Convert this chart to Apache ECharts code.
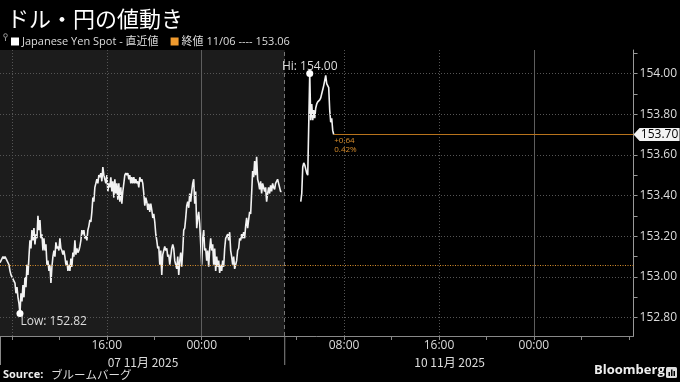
<!DOCTYPE html>
<html><head><meta charset="utf-8">
<script src="https://cdn.jsdelivr.net/npm/echarts@6/dist/echarts.min.js"></script>
<style>html,body{margin:0;padding:0;background:#000;}#c{width:680px;height:382px;}</style>
</head><body><div id="c"></div>
<script>
// ---------- data ----------
const TITLE = 'ドル・円の値動き';
const SERIES_NAME = 'Japanese Yen Spot - 直近値';
const PREV_NAME = '終値 11/06 ---- 153.06';
const SOURCE_LABEL = 'Source:';
const SOURCE_TEXT = 'ブルームバーグ';
const BRAND = 'Bloomberg';
const prevClose = 153.06;
const lastPrice = 153.70;
const changeLines = ['+0.64', '0.42%'];
const hiLabel = 'Hi: 154.00';
const lowLabel = 'Low: 152.82';

// y axis ticks / labels
const yLabelValues = [152.8, 153.0, 153.2, 153.4, 153.6, 153.8, 154.0];
const yTickValues = [152.8, 152.9, 153.0, 153.1, 153.2, 153.3, 153.4, 153.5, 153.6, 153.7, 153.8, 153.9, 154.0, 154.1];

// x axis: hours on a compressed timeline (07 Nov 00:00 = 0; weekend removed)
const xMinHour = 7;
const xMaxHour = 60.4;
const sessionBreakHour = 31;
const xTickHours = [8, 12, 16, 20, 24, 28, 32, 36, 40, 44, 48, 52, 56, 60];
const xLabelHours = [16, 24, 36, 44, 52];
const xLabelTexts = ['16:00', '00:00', '08:00', '16:00', '00:00'];
const dateLabelHours = [19.05, 44.9];
const dateLabelTexts = ['07 11月 2025', '10 11月 2025'];
const dottedGridHours = [8, 16, 36, 44];
const midnightHours = [24, 52];

// sampling
const fridayStartHour = 7;
const mondayStartHour = 32.35;
const sampleMinutes = 5.05;

const fridayPrices = [
153.07,153.08,153.09,153.10,153.09,153.10,153.09,153.08,153.08,153.06,
153.03,153.01,153.00,153.00,152.98,152.97,152.92,152.95,152.90,152.87,
152.82,152.92,152.88,152.96,152.90,153.00,152.95,153.06,153.01,153.10,
153.18,153.14,153.23,153.18,153.24,153.16,153.21,153.19,153.30,153.23,
153.28,153.19,153.21,153.13,153.19,153.13,153.16,153.06,153.08,153.03,
153.06,152.97,153.05,153.10,153.13,153.10,153.17,153.14,153.15,153.13,
153.19,153.14,153.13,153.11,153.13,153.10,153.06,153.08,153.03,153.06,
153.03,153.09,153.05,153.12,153.10,153.18,153.11,153.14,153.12,153.13,
153.15,153.18,153.23,153.21,153.23,153.19,153.20,153.18,153.23,153.25,
153.28,153.27,153.32,153.39,153.37,153.44,153.46,153.48,153.46,153.50,
153.49,153.51,153.47,153.54,153.50,153.48,153.46,153.50,153.42,153.46,
153.44,153.49,153.42,153.47,153.39,153.48,153.41,153.46,153.38,153.46,
153.37,153.44,153.36,153.42,153.46,153.50,153.51,153.50,153.51,153.48,
153.50,153.46,153.49,153.46,153.49,153.46,153.48,153.46,153.47,153.44,
153.49,153.47,153.48,153.46,153.41,153.35,153.39,153.37,153.33,153.36,
153.32,153.36,153.33,153.29,153.31,153.27,153.21,153.18,153.14,153.15,
153.06,153.13,153.01,153.11,153.13,153.15,153.13,153.14,153.10,153.11,
153.06,153.10,153.14,153.16,153.14,153.08,153.06,153.04,153.10,153.01,
153.08,153.12,153.05,153.13,153.23,153.24,153.29,153.35,153.37,153.34,
153.41,153.37,153.42,153.46,153.48,153.36,153.42,153.24,153.29,153.32,
153.26,153.16,153.06,153.19,153.23,153.13,153.14,153.08,153.13,153.05,
153.14,153.19,153.13,153.16,153.06,153.14,153.03,153.10,153.05,153.08,
153.02,153.06,153.03,153.08,153.05,153.14,153.19,153.20,153.21,153.18,
153.22,153.13,153.10,153.06,153.10,153.04,153.06,153.08,153.13,153.14,
153.19,153.18,153.21,153.19,153.22,153.19,153.25,153.29,153.24,153.28,
153.32,153.31,153.41,153.52,153.49,153.57,153.50,153.59,153.48,153.46,
153.43,153.47,153.41,153.46,153.46,153.42,153.44,153.37,153.41,153.44,
153.41,153.45,153.42,153.46,153.44,153.43,153.46,153.46,153.48,153.46,
153.46,153.42,153.42
];
const mondayPrices = [
153.37,153.41,153.54,153.56,153.55,153.53,153.51,153.50,153.50,154.00,
153.77,153.85,153.77,153.82,153.78,153.83,153.85,153.86,153.86,153.87,
153.88,153.90,153.92,153.94,153.94,153.99,153.95,153.94,153.93,153.82,
153.76,153.78,153.72,153.70
];

// ---------- build ----------
const step = sampleMinutes / 60;
const lineData = [];
fridayPrices.forEach((v, i) => lineData.push([fridayStartHour + i * step, v]));
lineData.push([(fridayStartHour + fridayPrices.length * step + mondayStartHour) / 2, null]);
mondayPrices.forEach((v, i) => lineData.push([mondayStartHour + i * step, v]));
const lastHour = mondayStartHour + (mondayPrices.length - 1) * step;

const ORANGE = '#d98e2c';
const ORANGE_DARK = '#b8731c';
const TXT = '#dcdcdc';
const FONT = '"Open Sans", "Noto Sans CJK JP", sans-serif';
const CJK = '"Noto Sans CJK JP", "Open Sans", sans-serif';

const chart = echarts.init(document.getElementById('c'), null, {renderer: 'canvas'});

const gridMarkLines = [];
yLabelValues.forEach(v => gridMarkLines.push({yAxis: v, lineStyle: {color: '#555', type: [1, 2], width: 1}}));
dottedGridHours.forEach(h => gridMarkLines.push({xAxis: h, lineStyle: {color: '#555', type: [1, 2], width: 1}}));
midnightHours.forEach(h => gridMarkLines.push({xAxis: h, lineStyle: {color: '#5e5e5e', type: 'solid', width: 1}}));
gridMarkLines.push({xAxis: sessionBreakHour, lineStyle: {color: '#777', type: [4, 3], width: 1}});

const option = {
  animation: false,
  backgroundColor: '#000',
  textStyle: {fontFamily: FONT},
  title: {
    text: TITLE, left: 2, top: 3,
    textStyle: {color: '#fff', fontSize: 22, fontWeight: 'normal', fontFamily: CJK}
  },
  legend: {
    data: [SERIES_NAME, PREV_NAME],
    left: 6, top: 31, itemWidth: 8, itemHeight: 8, itemGap: 12, icon: 'rect',
    textStyle: {color: TXT, fontSize: 11, fontFamily: FONT, padding: [0, 0, 0, -2]}
  },
  grid: {left: 0, right: 46, top: 50, bottom: 46, containLabel: false},
  xAxis: [{
    type: 'value', min: xMinHour, max: xMaxHour,
    axisLine: {show: true, lineStyle: {color: '#888', width: 1}},
    axisTick: {show: true, customValues: xTickHours, length: 4, lineStyle: {color: '#888'}},
    axisLabel: {
      customValues: xLabelHours, color: TXT, fontSize: 12, margin: 4,
      formatter: v => xLabelTexts[xLabelHours.findIndex(h => Math.abs(h - v) < 0.01)] || ''
    },
    splitLine: {show: false}
  }, {
    type: 'value', min: xMinHour, max: xMaxHour, position: 'bottom', offset: 16,
    axisLine: {show: false}, axisTick: {show: false},
    axisLabel: {
      customValues: dateLabelHours, color: TXT, fontSize: 12, margin: 4, fontFamily: CJK,
      formatter: v => dateLabelTexts[dateLabelHours.findIndex(h => Math.abs(h - v) < 0.01)] || ''
    },
    splitLine: {show: false}
  }],
  yAxis: {
    type: 'value', position: 'right', min: 152.71, max: 154.115,
    axisLine: {show: true, lineStyle: {color: '#999', width: 1}},
    axisTick: {show: true, customValues: yTickValues, length: 4, lineStyle: {color: '#999'}},
    axisLabel: {customValues: yLabelValues, color: TXT, fontSize: 12, margin: 6, formatter: v => v.toFixed(2)},
    splitLine: {show: false}
  },
  series: [{
    name: '_bg', type: 'line', data: [], z: 1, silent: true,
    markArea: {silent: true, itemStyle: {color: '#1c1c1c'}, data: [[{xAxis: xMinHour}, {xAxis: sessionBreakHour}]]},
    markLine: {silent: true, symbol: 'none', label: {show: false}, data: gridMarkLines}
  }, {
    name: PREV_NAME, type: 'line', data: [], itemStyle: {color: '#f09a2e'}, lineStyle: {color: '#f09a2e'}
  }, {
    name: SERIES_NAME, type: 'line', z: 3, data: lineData, showSymbol: false, connectNulls: false,
    itemStyle: {color: '#ffffff'},
    lineStyle: {color: '#f2f2f2', width: 1.6},
    markLine: {
      silent: true, symbol: 'none', label: {show: false},
      data: [
        {yAxis: prevClose, lineStyle: {color: ORANGE, type: [1, 1.5], width: 1}},
        [{coord: [lastHour, lastPrice], lineStyle: {color: ORANGE_DARK, type: 'solid', width: 1}}, {coord: [xMaxHour, lastPrice]}]
      ]
    },
    markPoint: {
      silent: true,
      data: [
        {type: 'max', symbol: 'circle', symbolSize: 7, itemStyle: {color: '#fff'},
         label: {show: true, formatter: hiLabel, position: 'top', distance: 0, offset: [0, 3], color: TXT, fontSize: 12}},
        {type: 'min', symbol: 'circle', symbolSize: 7, itemStyle: {color: '#fff'},
         label: {show: true, formatter: lowLabel, position: [4, 5], align: 'left', verticalAlign: 'top', color: TXT, fontSize: 12}},
        {coord: [lastHour, lastPrice], symbol: 'circle', symbolSize: 1, itemStyle: {color: 'rgba(0,0,0,0)'},
         label: {show: true, formatter: changeLines.join('\n'), position: [1, 2], align: 'left', verticalAlign: 'top',
                 color: ORANGE, fontSize: 8, lineHeight: 9}},
        {coord: [xMaxHour, lastPrice], symbol: 'path://M0,6.5L6,0L46,0L46,13L6,13Z', symbolKeepAspect: false,
         symbolSize: [46, 13], symbolOffset: [23, 0], itemStyle: {color: '#f2f2f2'},
         label: {show: true, formatter: lastPrice.toFixed(2), position: 'inside', offset: [3, 0], color: '#000', fontSize: 12}}
      ]
    }
  }]
};
chart.setOption(option);

// extra decorations positioned through the chart's own scales
const xLeft = chart.convertToPixel({xAxisIndex: 0}, xMinHour);
const xBreak = chart.convertToPixel({xAxisIndex: 0}, sessionBreakHour);
const yBottom = chart.convertToPixel({yAxisIndex: 0}, 152.71);
chart.setOption({
  graphic: [
    {type: 'line', shape: {x1: xLeft + 0.5, y1: yBottom, x2: xLeft + 0.5, y2: yBottom + 29}, style: {stroke: '#888', lineWidth: 1}},
    {type: 'line', shape: {x1: xBreak, y1: yBottom, x2: xBreak, y2: yBottom + 29}, style: {stroke: '#888', lineWidth: 1}},
    {type: 'circle', shape: {cx: 5.5, cy: 35.5, r: 1.8}, style: {fill: 'none', stroke: '#999', lineWidth: 1}},
    {type: 'line', shape: {x1: 5.5, y1: 37.5, x2: 5.5, y2: 41}, style: {stroke: '#999', lineWidth: 1}},
    {type: 'text', left: 3, top: 369, style: {text: SOURCE_LABEL, fill: '#eee', font: 'bold 11px "Open Sans", sans-serif'}},
    {type: 'text', left: 51, top: 369, style: {text: SOURCE_TEXT, fill: '#ddd', font: '11.5px "Noto Sans CJK JP", sans-serif'}},
    {type: 'text', left: 594, top: 364, style: {text: BRAND, fill: '#eee', font: 'bold 13px "Open Sans", sans-serif'}},
    {type: 'rect', left: 666, top: 367, shape: {width: 11, height: 11, r: 1.5}, style: {fill: '#ddd'}},
    {type: 'rect', left: 668.5, top: 372, shape: {width: 1.5, height: 4}, style: {fill: '#000'}},
    {type: 'rect', left: 671, top: 369.5, shape: {width: 1.5, height: 6.5}, style: {fill: '#000'}},
    {type: 'rect', left: 673.5, top: 371, shape: {width: 1.5, height: 5}, style: {fill: '#000'}}
  ]
});
</script>
</body></html>
